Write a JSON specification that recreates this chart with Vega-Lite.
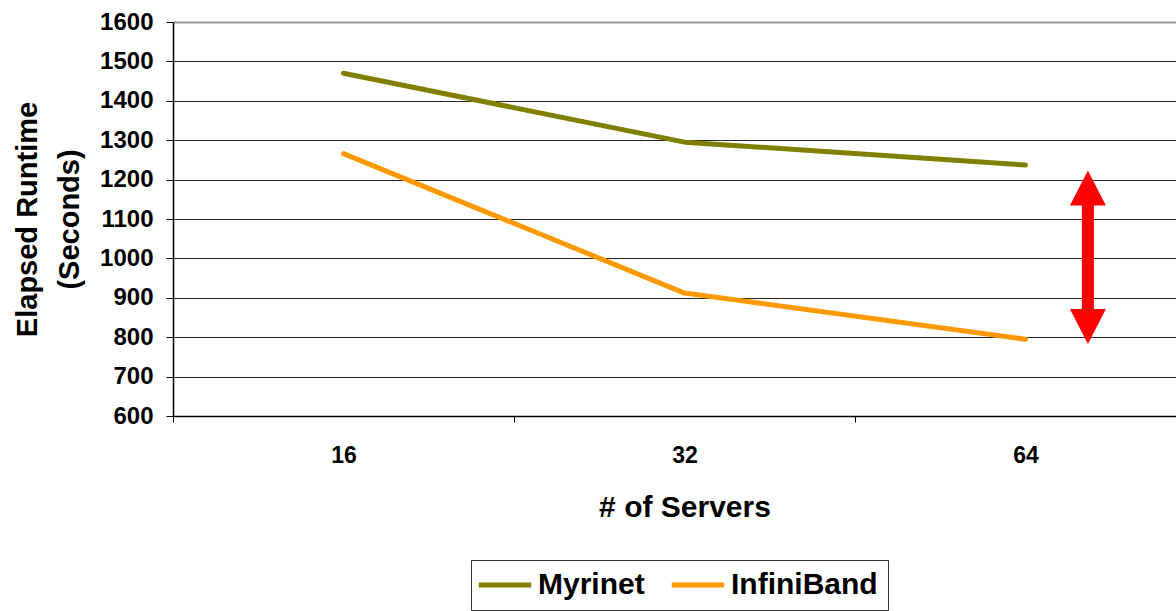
{
  "$schema": "https://vega.github.io/schema/vega-lite/v6.json",
  "autosize": "none",
  "width": 1003,
  "height": 394,
  "padding": {"left": 173, "top": 22, "right": 0, "bottom": 195},
  "background": "white",
  "config": {"view": {"stroke": null}, "font": "Liberation Sans"},
  "datasets": {
    "runtime": [
      {"servers": "16", "network": "Myrinet", "seconds": 1470},
      {"servers": "32", "network": "Myrinet", "seconds": 1295},
      {"servers": "64", "network": "Myrinet", "seconds": 1237},
      {"servers": "16", "network": "InfiniBand", "seconds": 1266},
      {"servers": "32", "network": "InfiniBand", "seconds": 912},
      {"servers": "64", "network": "InfiniBand", "seconds": 795}
    ],
    "gap": [
      {"servers": "64", "tip_top": 1223, "tip_bottom": 783, "shaft_top": 1148, "shaft_bottom": 844}
    ]
  },
  "layer": [
    {
      "data": {"name": "runtime"},
      "mark": {"type": "line", "strokeWidth": 5, "strokeCap": "round", "strokeJoin": "round"},
      "encoding": {
        "x": {
          "field": "servers", "type": "ordinal", "sort": ["16", "32", "64"],
          "scale": {"type": "band", "range": [0, 1023], "paddingInner": 0, "paddingOuter": 0},
          "axis": {
            "title": "# of Servers", "titleFontSize": 30, "titleFontWeight": "bold", "titleColor": "black", "titlePadding": 25,
            "labelAngle": 0, "labelFontSize": 23, "labelFontWeight": "bold", "labelColor": "black", "labelPadding": 22,
            "tickBand": "extent", "tickSize": 6, "tickColor": "black", "domainColor": "black", "domainWidth": 1.5,
            "grid": false
          }
        },
        "y": {
          "field": "seconds", "type": "quantitative",
          "scale": {"domain": [600, 1600], "nice": false, "zero": false},
          "axis": {
            "title": ["Elapsed Runtime", "(Seconds)"], "titleFontSize": 29, "titleFontWeight": "bold", "titleColor": "black",
            "titleLineHeight": 42, "titlePadding": 15,
            "values": [600, 700, 800, 900, 1000, 1100, 1200, 1300, 1400, 1500, 1600],
            "tickCount": 20,
            "format": "d", "labelOverlap": false,
            "labelFontSize": 24, "labelFontWeight": "bold", "labelColor": "black", "labelPadding": 13,
            "tickSize": 7, "tickColor": "black", "domainColor": "black", "domainWidth": 1.5,
            "grid": true,
            "gridColor": {"condition": {"test": "datum.value == 1600", "value": "#9a9a9a"}, "value": "#262626"},
            "gridWidth": {"condition": {"test": "datum.value == 1600", "value": 2}, "value": 1}
          }
        },
        "color": {
          "field": "network", "type": "nominal",
          "scale": {"domain": ["Myrinet", "InfiniBand"], "range": ["#808000", "#FF9900"]},
          "legend": {
            "orient": "none", "legendX": 298, "legendY": 538, "direction": "horizontal", "title": null,
            "symbolType": "M-2.5,0L2.5,0", "symbolSize": 441, "symbolStrokeWidth": 5, "symbolOffset": 9,
            "labelFontSize": 30, "labelFontWeight": "bold", "labelColor": "black", "labelLimit": 300,
            "labelOffset": 18, "columnPadding": 16, "padding": 10,
            "strokeColor": "#333333", "fillColor": "white"
          }
        }
      }
    },
    {
      "data": {"name": "gap"},
      "mark": {"type": "rule", "strokeWidth": 12, "color": "#FF0000", "strokeCap": "butt"},
      "encoding": {
        "x": {"field": "servers", "type": "ordinal", "bandPosition": 0.683},
        "y": {"field": "shaft_top", "type": "quantitative"},
        "y2": {"field": "shaft_bottom"}
      }
    },
    {
      "data": {"name": "gap"},
      "mark": {"type": "point", "filled": true, "opacity": 1, "color": "#FF0000", "size": 1296, "shape": "M0,0L1,1.944L-1,1.944Z"},
      "encoding": {
        "x": {"field": "servers", "type": "ordinal", "bandPosition": 0.683},
        "y": {"field": "tip_top", "type": "quantitative"}
      }
    },
    {
      "data": {"name": "gap"},
      "mark": {"type": "point", "filled": true, "opacity": 1, "color": "#FF0000", "size": 1296, "shape": "M0,0L1,-1.944L-1,-1.944Z"},
      "encoding": {
        "x": {"field": "servers", "type": "ordinal", "bandPosition": 0.683},
        "y": {"field": "tip_bottom", "type": "quantitative"}
      }
    }
  ]
}
